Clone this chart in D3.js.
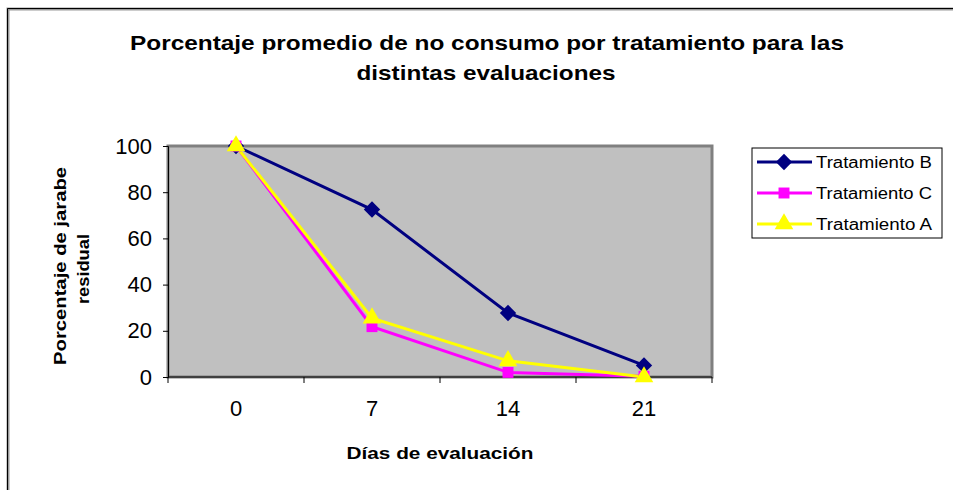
<!DOCTYPE html>
<html>
<head>
<meta charset="utf-8">
<script src="https://cdn.jsdelivr.net/npm/d3@7"></script>
<style>
  body { margin: 0; background: #fff; }
  text { font-family: Arial, "Liberation Sans", sans-serif; }
</style>
</head>
<body>
<svg id="chart" width="953" height="490"></svg>
<script>
var dias = ["0", "7", "14", "21"];
var yTicks = [0, 20, 40, 60, 80, 100];
var seriesNames = ["Tratamiento B", "Tratamiento C", "Tratamiento A"];
var tratB = [100, 72.5, 27.7, 5];
var tratC = [100, 21.8, 2, 0.3];
var tratA = [100, 25.5, 7, 0];
var seriesColors = ["#000080", "#FF00FF", "#FFFF00"];
var seriesMarkers = [d3.symbolDiamond2, d3.symbolSquare, d3.symbolTriangle];
var markerSizes = [170, 120, 150];

var series = seriesNames.map(function (n, i) {
    return { name: n, values: [tratB, tratC, tratA][i], color: seriesColors[i],
             marker: seriesMarkers[i], size: markerSizes[i] };
});

var svg = d3.select("#chart");

// outer frame
svg.append("path").attr("d", "M8,490 V9 H953").attr("fill", "none")
    .attr("stroke", "#999").attr("stroke-width", 3);
svg.append("path").attr("d", "M7.5,490 V8.5 H953").attr("fill", "none")
    .attr("stroke", "#000").attr("stroke-width", 1);

var pLeft = 168, pRight = 712, pTop = 146, pBottom = 377;

var x = d3.scaleBand().domain(dias).range([pLeft, pRight]);
var y = d3.scaleLinear().domain([0, 100]).range([pBottom, pTop]);

// plot area
svg.append("rect").attr("x", pLeft).attr("y", pTop)
    .attr("width", pRight - pLeft).attr("height", pBottom - pTop)
    .attr("fill", "#C0C0C0").attr("stroke", "#808080").attr("stroke-width", 3);

// y axis
var yAxis = svg.append("g").attr("transform", "translate(" + pLeft + ",0)")
    .call(d3.axisLeft(y).tickValues(yTicks).tickSize(5).tickPadding(11));
yAxis.select(".domain").attr("stroke", "#000");
yAxis.selectAll("text").attr("font-size", 22).attr("fill", "#000");

// x axis
var xAxis = svg.append("g").attr("transform", "translate(0," + pBottom + ")")
    .call(d3.axisBottom(x).tickSize(0).tickPadding(23));
xAxis.select(".domain").attr("d", "M" + pLeft + ",0H" + pRight).attr("stroke", "#000");
xAxis.selectAll("text").attr("font-size", 22).attr("fill", "#000");
xAxis.selectAll(".sep").data(d3.range(dias.length + 1)).enter().append("line")
    .attr("x1", function (i) { return pLeft + i * x.step(); })
    .attr("x2", function (i) { return pLeft + i * x.step(); })
    .attr("y1", 0).attr("y2", 6).attr("stroke", "#000");

var line = d3.line()
    .x(function (d, i) { return x(dias[i]) + x.bandwidth() / 2; })
    .y(function (d) { return y(d); });

series.forEach(function (s) {
    svg.append("path").datum(s.values).attr("d", line)
        .attr("fill", "none").attr("stroke", s.color).attr("stroke-width", 3);
});
series.forEach(function (s) {
    svg.selectAll(null).data(s.values).enter().append("path")
        .attr("d", d3.symbol().type(s.marker).size(s.size))
        .attr("transform", function (d, i) {
            return "translate(" + (x(dias[i]) + x.bandwidth() / 2) + "," + y(d) + ")";
        })
        .attr("fill", s.color);
});

// title
var title = svg.append("text").attr("text-anchor", "middle")
    .attr("font-size", 21).attr("font-weight", "bold");
title.append("tspan").attr("x", 487).attr("y", 50)
    .attr("textLength", 714).attr("lengthAdjust", "spacingAndGlyphs")
    .text("Porcentaje promedio de no consumo por tratamiento para las");
title.append("tspan").attr("x", 486).attr("y", 80)
    .attr("textLength", 259).attr("lengthAdjust", "spacingAndGlyphs")
    .text("distintas evaluaciones");

// axis titles
svg.append("text").attr("x", 440).attr("y", 459).attr("text-anchor", "middle")
    .attr("font-size", 17).attr("font-weight", "bold")
    .attr("textLength", 187).attr("lengthAdjust", "spacingAndGlyphs")
    .text("Días de evaluación");

var yt = svg.append("text").attr("transform", "translate(66,266) rotate(-90)")
    .attr("text-anchor", "middle").attr("font-size", 17).attr("font-weight", "bold");
yt.append("tspan").attr("x", 0).attr("y", 0)
    .attr("textLength", 198).attr("lengthAdjust", "spacingAndGlyphs")
    .text("Porcentaje de jarabe");
yt.append("tspan").attr("x", -3).attr("y", 23)
    .attr("textLength", 70).attr("lengthAdjust", "spacingAndGlyphs")
    .text("residual");

// legend
var lg = svg.append("g").attr("transform", "translate(752,148)");
lg.append("rect").attr("width", 190).attr("height", 90)
    .attr("fill", "#fff").attr("stroke", "#000");
series.forEach(function (s, i) {
    var ly = 14 + i * 31;
    lg.append("line").attr("x1", 5).attr("x2", 60).attr("y1", ly).attr("y2", ly)
        .attr("stroke", s.color).attr("stroke-width", 3);
    lg.append("path").attr("d", d3.symbol().type(s.marker).size(s.size))
        .attr("transform", "translate(32," + ly + ")").attr("fill", s.color);
    lg.append("text").attr("x", 64).attr("y", ly + 6).attr("font-size", 16)
        .attr("textLength", 116).attr("lengthAdjust", "spacingAndGlyphs")
        .text(s.name);
});
</script>
</body>
</html>
